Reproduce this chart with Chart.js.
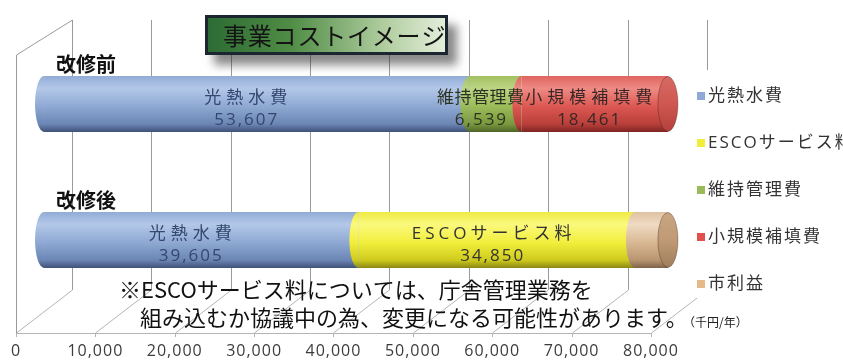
<!DOCTYPE html>
<html lang="ja">
<head>
<meta charset="utf-8">
<title>事業コストイメージ</title>
<script src="https://cdn.jsdelivr.net/npm/chart.js@4.4.1/dist/chart.umd.min.js"></script>
<style>
  html, body { margin: 0; padding: 0; background: #ffffff; }
  #wrap { position: relative; width: 843px; height: 361px; overflow: hidden; }
  canvas { display: block; }
</style>
</head>
<body>
<div id="wrap"><canvas id="costChart" width="843" height="361"></canvas></div>
<script>
// ---- data (千円/年) ----
const categories = ['改修前', '改修後'];
const seriesNames = ['光熱水費', 'ESCOサービス料', '維持管理費', '小規模補填費', '市利益'];
const utilityCost     = [53607, 39605];
const escoFee         = [0, 34850];
const maintenanceCost = [6539, 0];
const repairCost      = [18461, 0];
const cityBenefit     = [0, 4152];
const tickValues = [0, 10000, 20000, 30000, 40000, 50000, 60000, 70000, 80000];

const chartTitle = '事業コストイメージ';
const noteLines = [
  '※ESCOサービス料については、庁舎管理業務を',
  '組み込むか協議中の為、変更になる可能性があります。'
];
const unitLabel = '（千円/年）';

// ---- styles ----
const JP = '"Noto Sans CJK JP", "Noto Sans", sans-serif';
const NUM = '"Open Sans", "Noto Sans CJK JP", sans-serif';
const BAR_PCT = 0.41;        // bar thickness share of a category band
const CAP_RX = 9;            // horizontal radius of the cylinder ends
const LABEL_MIN = 5000;      // segments smaller than this carry no in-bar label
const LABEL_SHIFT = -9;      // in-bar labels sit on the front face, a little to the left

const looks = [
  { swatch: '#8ea9d6', text: '#34476e', spacing: 5, dx: -2,
    body: [[0, '#93acd6'], [0.22, '#b3c8e8'], [0.55, '#8ea8d3'], [0.86, '#6c86b5'], [1, '#3f5279']] },
  { swatch: '#f0ee3a', text: '#333333', spacing: 4, dx: 4,
    body: [[0, '#eeea45'], [0.22, '#fbf97c'], [0.55, '#f1ee3b'], [0.86, '#cfcb1e'], [1, '#8c8814']] },
  { swatch: '#9bbb59', text: '#2b3320', spacing: 0.5, dx: -6,
    body: [[0, '#a3c163'], [0.22, '#bcd584'], [0.55, '#9bbb59'], [0.86, '#7a983d'], [1, '#4f6527']] },
  { swatch: '#e0514c', text: '#3a2626', spacing: 5, dx: 3,
    body: [[0, '#df6560'], [0.22, '#ee8a84'], [0.55, '#dc5751'], [0.86, '#b83f3a'], [1, '#7e2522']],
    face: [[0, '#d76a64'], [0.5, '#cf5751'], [1, '#b3403b']] },
  { swatch: '#e6b98a', text: '#333333', spacing: 4, dx: 0,
    body: [[0, '#dfc2a2'], [0.22, '#efdac3'], [0.55, '#d8b893'], [0.86, '#b89570'], [1, '#7f644a']],
    face: [[0, '#c9a582'], [0.5, '#bf9a75'], [1, '#9f7d5c']] }
];

function bandGradient(chart, index, stops) {
  const ys = chart.scales.y;
  if (!chart.chartArea || !ys) return stops[2][1];
  const yc = ys.getPixelForValue(index);
  const half = ys.height / categories.length * BAR_PCT / 2;
  const g = chart.ctx.createLinearGradient(0, yc - half, 0, yc + half);
  stops.forEach(([o, c]) => g.addColorStop(o, c));
  return g;
}

const seriesValues = [utilityCost, escoFee, maintenanceCost, repairCost, cityBenefit];

const datasets = seriesNames.map((name, i) => ({
  label: name,
  data: seriesValues[i],
  backgroundColor: (ctx) => bandGradient(ctx.chart, ctx.dataIndex, looks[i].body),
  borderWidth: 0,
  barPercentage: BAR_PCT,
  categoryPercentage: 1
}));

// back wall, side wall and floor of the 3D frame
const framePlugin = {
  id: 'frame',
  beforeDraw(chart) {
    chart.ctx.letterSpacing = '1px';
  },
  beforeDatasetsDraw(chart) {
    const { ctx, chartArea } = chart;
    const front = chart.scales.xt, wall = chart.scales.xWall;
    const wallTop = chartArea.top - 16;
    const wallBottom = chartArea.bottom - 18;
    const floorFront = chartArea.bottom + 25;
    const sideTop = wallTop + 35;
    ctx.save();
    ctx.letterSpacing = '0px';
    ctx.lineWidth = 1;
    // back wall grid and floor slants
    tickValues.forEach(v => {
      const xb = Math.round(wall.getPixelForValue(v)) + 0.5;
      const xf = Math.round(front.getPixelForValue(v)) + 0.5;
      ctx.strokeStyle = '#9a9a9a';
      ctx.beginPath();
      ctx.moveTo(xb, wallTop);
      ctx.lineTo(xb, wallBottom);
      ctx.stroke();
      ctx.strokeStyle = '#b4b4b4';
      ctx.beginPath();
      ctx.moveTo(xb, wallBottom);
      ctx.lineTo(xf, floorFront);
      ctx.stroke();
      ctx.beginPath();
      ctx.moveTo(xf, floorFront);
      ctx.lineTo(xf, floorFront + 4);
      ctx.stroke();
    });
    // side wall
    const x0 = Math.round(front.getPixelForValue(0)) + 0.5;
    const xw0 = Math.round(wall.getPixelForValue(0)) + 0.5;
    ctx.strokeStyle = '#9a9a9a';
    ctx.beginPath();
    ctx.moveTo(xw0, wallTop);
    ctx.lineTo(x0, sideTop);
    ctx.lineTo(x0, floorFront);
    ctx.stroke();
    // floor front edge
    ctx.strokeStyle = '#b4b4b4';
    ctx.beginPath();
    ctx.moveTo(x0, floorFront + 0.5);
    ctx.lineTo(front.getPixelForValue(tickValues[tickValues.length - 1]), floorFront + 0.5);
    ctx.stroke();
    ctx.restore();
  }
};

// rounded cylinder ends, end faces and in-bar labels
const cylinderPlugin = {
  id: 'cylinders',
  afterDatasetsDraw(chart) {
    const { ctx } = chart;
    ctx.save();
    ctx.letterSpacing = '0px';
    const rows = categories.length;
    const labels = [];
    for (let r = 0; r < rows; r++) {
      let last = null;
      chart.data.datasets.forEach((ds, i) => {
        const v = ds.data[r];
        if (!v) return;
        const el = chart.getDatasetMeta(i).data[r];
        const { x, y, base, height } = el.getProps(['x', 'y', 'base', 'height'], true);
        const half = height / 2;
        // left end of this segment bulges over the one before it
        ctx.fillStyle = el.options.backgroundColor;
        ctx.beginPath();
        ctx.ellipse(base, y, CAP_RX, half, 0, Math.PI / 2, Math.PI * 1.5);
        ctx.closePath();
        ctx.fill();
        last = { i, x, y, half };
        if (v >= LABEL_MIN) labels.push({ i, cx: (base + x) / 2, y, v });
      });
      if (last) {
        const look = looks[last.i];
        const stops = look.face || look.body;
        const g = ctx.createLinearGradient(0, last.y - last.half, 0, last.y + last.half);
        stops.forEach(([o, c]) => g.addColorStop(o, c));
        ctx.fillStyle = g;
        ctx.strokeStyle = 'rgba(60,30,20,0.35)';
        ctx.lineWidth = 1;
        ctx.beginPath();
        ctx.ellipse(last.x, last.y, CAP_RX + 1, last.half - 0.5, 0, 0, Math.PI * 2);
        ctx.fill();
        ctx.stroke();
      }
    }
    ctx.textAlign = 'center';
    ctx.textBaseline = 'middle';
    labels.forEach(l => {
      const look = looks[l.i];
      const cx = l.cx + LABEL_SHIFT + look.dx;
      ctx.fillStyle = look.text;
      ctx.font = '17px ' + NUM;
      ctx.letterSpacing = look.spacing + 'px';
      ctx.fillText(seriesNames[l.i], cx + look.spacing / 2, l.y - 6);
      ctx.letterSpacing = '2px';
      ctx.fillText(l.v.toLocaleString('en-US'), cx + 1, l.y + 16);
    });
    ctx.restore();
  }
};

// category names, legend, title box and footnote
const overlayPlugin = {
  id: 'overlay',
  afterDraw(chart) {
    const { ctx, chartArea } = chart;
    const ys = chart.scales.y;
    ctx.save();
    ctx.letterSpacing = '0px';

    // category names above each cylinder
    ctx.fillStyle = '#111111';
    ctx.font = 'bold 20px ' + JP;
    ctx.textAlign = 'left';
    ctx.textBaseline = 'middle';
    categories.forEach((c, i) => {
      ctx.fillText(c, 56, ys.getPixelForValue(i) - 40);
    });

    // legend panel
    const lx = chartArea.right - 34;
    ctx.fillStyle = '#ffffff';
    ctx.fillRect(lx, chartArea.top + 34, 843 - lx, 228);
    ctx.font = '17px ' + NUM;
    ctx.textBaseline = 'middle';
    seriesNames.forEach((name, i) => {
      const y = chartArea.top + 60 + i * 47;
      ctx.fillStyle = looks[i].swatch;
      ctx.fillRect(lx + 11, y - 4, 8, 8);
      ctx.fillStyle = '#333333';
      ctx.letterSpacing = '2px';
      ctx.fillText(name, lx + 22, y);
    });
    ctx.letterSpacing = '0px';

    // title box
    const bx = 205, by = 15, bw = 243, bh = 40;
    ctx.save();
    ctx.shadowColor = 'rgba(40,40,40,0.55)';
    ctx.shadowBlur = 9;
    ctx.shadowOffsetX = 9;
    ctx.shadowOffsetY = 10;
    const tg = ctx.createLinearGradient(bx, 0, bx + bw, 0);
    tg.addColorStop(0, '#2b6a33');
    tg.addColorStop(0.35, '#4f8c45');
    tg.addColorStop(0.75, '#b3cfa2');
    tg.addColorStop(1, '#e6efdd');
    ctx.fillStyle = tg;
    ctx.fillRect(bx, by, bw, bh);
    ctx.restore();
    ctx.strokeStyle = '#1c2631';
    ctx.lineWidth = 3;
    ctx.strokeRect(bx + 1.5, by + 1.5, bw - 3, bh - 3);
    ctx.fillStyle = '#141414';
    ctx.font = '24px ' + JP;
    ctx.textBaseline = 'middle';
    ctx.letterSpacing = '0.8px';
    ctx.fillText(chartTitle, bx + 18, by + bh / 2 + 1);
    ctx.letterSpacing = '0px';

    // footnote
    ctx.fillStyle = '#111111';
    ctx.font = '22px ' + JP;
    ctx.fillText(noteLines[0], 119, 290);
    ctx.fillText(noteLines[1], 140, 318);
    ctx.font = '12px ' + JP;
    ctx.fillStyle = '#222222';
    ctx.fillText(unitLabel, 683, 322);
    ctx.restore();
  }
};

new Chart(document.getElementById('costChart'), {
  type: 'bar',
  data: { labels: categories, datasets },
  plugins: [framePlugin, cylinderPlugin, overlayPlugin],
  options: {
    indexAxis: 'y',
    responsive: false,
    animation: false,
    devicePixelRatio: 1,
    layout: { autoPadding: false, padding: { left: 16, right: 123, top: 36, bottom: 0 } },
    plugins: { legend: { display: false }, tooltip: { enabled: false }, title: { display: false } },
    scales: {
      x: { type: 'linear', stacked: true, min: -3530, max: 85170, display: false },
      xWall: { type: 'linear', axis: 'x', min: -7055, max: 81645, display: false },
      xt: {
        type: 'linear', axis: 'x', position: 'bottom', min: 0, max: 88700,
        grid: { display: true, drawOnChartArea: false, drawTicks: true, tickLength: 34, color: 'rgba(0,0,0,0)' },
        border: { display: false },
        afterBuildTicks: (scale) => { scale.ticks = tickValues.map(v => ({ value: v })); },
        afterFit: (scale) => { scale.height = 53; },
        ticks: {
          padding: 0, maxRotation: 0, autoSkip: false, color: '#3c3c3c',
          font: { family: NUM, size: 16 },
          callback: (v) => Number(v).toLocaleString('en-US')
        }
      },
      y: { type: 'category', stacked: true, display: false }
    }
  }
});
</script>
</body>
</html>
